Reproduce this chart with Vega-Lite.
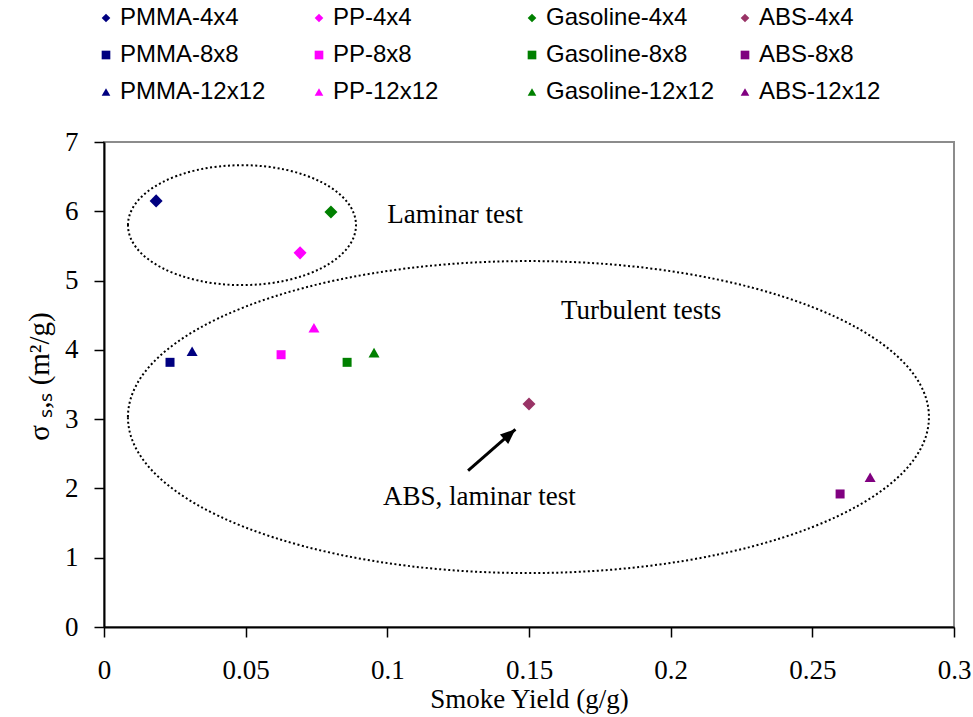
{
  "$schema": "https://vega.github.io/schema/vega-lite/v6.json",
  "width": 850,
  "height": 485,
  "autosize": "none",
  "padding": {"left": 104, "top": 142, "right": 19, "bottom": 90},
  "background": "white",
  "config": {
    "view": {"stroke": "#8c8c8c", "strokeWidth": 2},
    "axis": {
      "grid": false,
      "domainColor": "black",
      "domainWidth": 2,
      "tickColor": "black",
      "tickWidth": 1.5,
      "tickSize": 10,
      "labelFont": "Liberation Serif",
      "labelFontSize": 27,
      "labelColor": "black",
      "titleFont": "Liberation Serif",
      "titleFontSize": 27,
      "titleFontWeight": "normal",
      "titleColor": "black"
    },
    "legend": {
      "title": null,
      "orient": "none",
      "legendX": -10,
      "legendY": -136,
      "direction": "horizontal",
      "columns": 4,
      "gridAlign": "all",
      "columnPadding": 18,
      "rowPadding": 13,
      "symbolSize": 75,
      "symbolStrokeWidth": 0,
      "labelFont": "Liberation Sans",
      "labelFontSize": 24,
      "labelColor": "black",
      "labelOffset": 2,
      "labelLimit": 300
    }
  },
  "datasets": {
    "points": [
      {"series": "PMMA-4x4", "material": "PMMA", "grid": "4x4", "yield": 0.0184, "sigma": 6.15},
      {"series": "PP-4x4", "material": "PP", "grid": "4x4", "yield": 0.0692, "sigma": 5.40},
      {"series": "Gasoline-4x4", "material": "Gasoline", "grid": "4x4", "yield": 0.0801, "sigma": 5.99},
      {"series": "ABS-4x4", "material": "ABS", "grid": "4x4", "yield": 0.150, "sigma": 3.22},
      {"series": "PMMA-8x8", "material": "PMMA", "grid": "8x8", "yield": 0.0233, "sigma": 3.82},
      {"series": "PP-8x8", "material": "PP", "grid": "8x8", "yield": 0.0625, "sigma": 3.93},
      {"series": "Gasoline-8x8", "material": "Gasoline", "grid": "8x8", "yield": 0.0858, "sigma": 3.82},
      {"series": "ABS-8x8", "material": "ABS", "grid": "8x8", "yield": 0.2598, "sigma": 1.92},
      {"series": "PMMA-12x12", "material": "PMMA", "grid": "12x12", "yield": 0.0311, "sigma": 3.98},
      {"series": "PP-12x12", "material": "PP", "grid": "12x12", "yield": 0.0741, "sigma": 4.32},
      {"series": "Gasoline-12x12", "material": "Gasoline", "grid": "12x12", "yield": 0.0953, "sigma": 3.96},
      {"series": "ABS-12x12", "material": "ABS", "grid": "12x12", "yield": 0.2704, "sigma": 2.16}
    ],
    "notes": [
      {"label": "Laminar test", "yield": 0.1239, "sigma": 5.95},
      {"label": "Turbulent tests", "yield": 0.1896, "sigma": 4.56},
      {"label": "ABS, laminar test", "yield": 0.1325, "sigma": 1.88}
    ],
    "laminarEllipse": [{"yield": 0.0487, "sigma": 5.80}],
    "turbulentEllipse": [{"yield": 0.1498, "sigma": 3.03}],
    "arrow": [{"yield": 0.1285, "sigma": 2.256, "yield2": 0.1452, "sigma2": 2.853}]
  },
  "encoding": {
    "x": {
      "field": "yield", "type": "quantitative",
      "scale": {"domain": [0, 0.3], "nice": false},
      "axis": {"title": "Smoke Yield (g/g)", "values": [0, 0.05, 0.1, 0.15, 0.2, 0.25, 0.3], "format": "~g", "labelPadding": 20, "titlePadding": 3, "labelFlush": false}
    },
    "y": {
      "field": "sigma", "type": "quantitative",
      "scale": {"domain": [0, 7], "nice": false},
      "axis": {"title": "σ ₛ,ₛ (m²/g)", "titleFontSize": 29, "titleY": 234, "values": [0, 1, 2, 3, 4, 5, 6, 7], "format": "d", "labelPadding": 16, "titlePadding": 10, "labelFlush": false}
    }
  },
  "layer": [
    {
      "data": {"name": "laminarEllipse"},
      "mark": {"type": "point", "shape": "M -1 0 A 1 0.526 0 1 1 1 0 A 1 0.526 0 1 1 -1 0 Z", "size": 51984, "filled": false, "stroke": "black", "strokeWidth": 2, "strokeDash": [2, 2.5], "opacity": 1}
    },
    {
      "data": {"name": "turbulentEllipse"},
      "mark": {"type": "point", "shape": "M -1 0 A 1 0.3895 0 1 1 1 0 A 1 0.3895 0 1 1 -1 0 Z", "size": 641601, "filled": false, "stroke": "black", "strokeWidth": 2, "strokeDash": [2, 2.5], "opacity": 1}
    },
    {
      "data": {"name": "arrow"},
      "mark": {"type": "rule", "color": "black", "strokeWidth": 3},
      "encoding": {
        "x2": {"field": "yield2"},
        "y2": {"field": "sigma2"}
      }
    },
    {
      "data": {"name": "arrow"},
      "mark": {"type": "point", "shape": "M 0 0 L 0.42 1 L -0.42 1 Z", "size": 900, "filled": true, "color": "black", "opacity": 1, "angle": 49},
      "encoding": {
        "x": {"field": "yield2", "type": "quantitative"},
        "y": {"field": "sigma2", "type": "quantitative"}
      }
    },
    {
      "data": {"name": "notes"},
      "mark": {"type": "text", "font": "Liberation Serif", "fontSize": 27, "color": "black", "align": "center", "baseline": "middle"},
      "encoding": {
        "text": {"field": "label"}
      }
    },
    {
      "data": {"name": "points"},
      "transform": [{"filter": "datum.grid === '4x4'"}],
      "mark": {"type": "point", "filled": true, "opacity": 1, "size": 170},
      "encoding": {
        "color": {"field": "series", "type": "nominal", "scale": {"domain": ["PMMA-4x4", "PP-4x4", "Gasoline-4x4", "ABS-4x4", "PMMA-8x8", "PP-8x8", "Gasoline-8x8", "ABS-8x8", "PMMA-12x12", "PP-12x12", "Gasoline-12x12", "ABS-12x12"], "range": ["#000080", "#FF00FF", "#008000", "#993366", "#000080", "#FF00FF", "#008000", "#800080", "#000080", "#FF00FF", "#008000", "#800080"]}},
        "shape": {"field": "series", "type": "nominal", "scale": {"domain": ["PMMA-4x4", "PP-4x4", "Gasoline-4x4", "ABS-4x4", "PMMA-8x8", "PP-8x8", "Gasoline-8x8", "ABS-8x8", "PMMA-12x12", "PP-12x12", "Gasoline-12x12", "ABS-12x12"], "range": ["diamond", "diamond", "diamond", "diamond", "square", "square", "square", "square", "triangle-up", "triangle-up", "triangle-up", "triangle-up"]}}
      }
    },
    {
      "data": {"name": "points"},
      "transform": [{"filter": "datum.grid === '8x8'"}],
      "mark": {"type": "point", "filled": true, "opacity": 1, "size": 81},
      "encoding": {
        "color": {"field": "series", "type": "nominal"},
        "shape": {"field": "series", "type": "nominal"}
      }
    },
    {
      "data": {"name": "points"},
      "transform": [{"filter": "datum.grid === '12x12'"}],
      "mark": {"type": "point", "filled": true, "opacity": 1, "size": 121},
      "encoding": {
        "color": {"field": "series", "type": "nominal"},
        "shape": {"field": "series", "type": "nominal"}
      }
    }
  ]
}
